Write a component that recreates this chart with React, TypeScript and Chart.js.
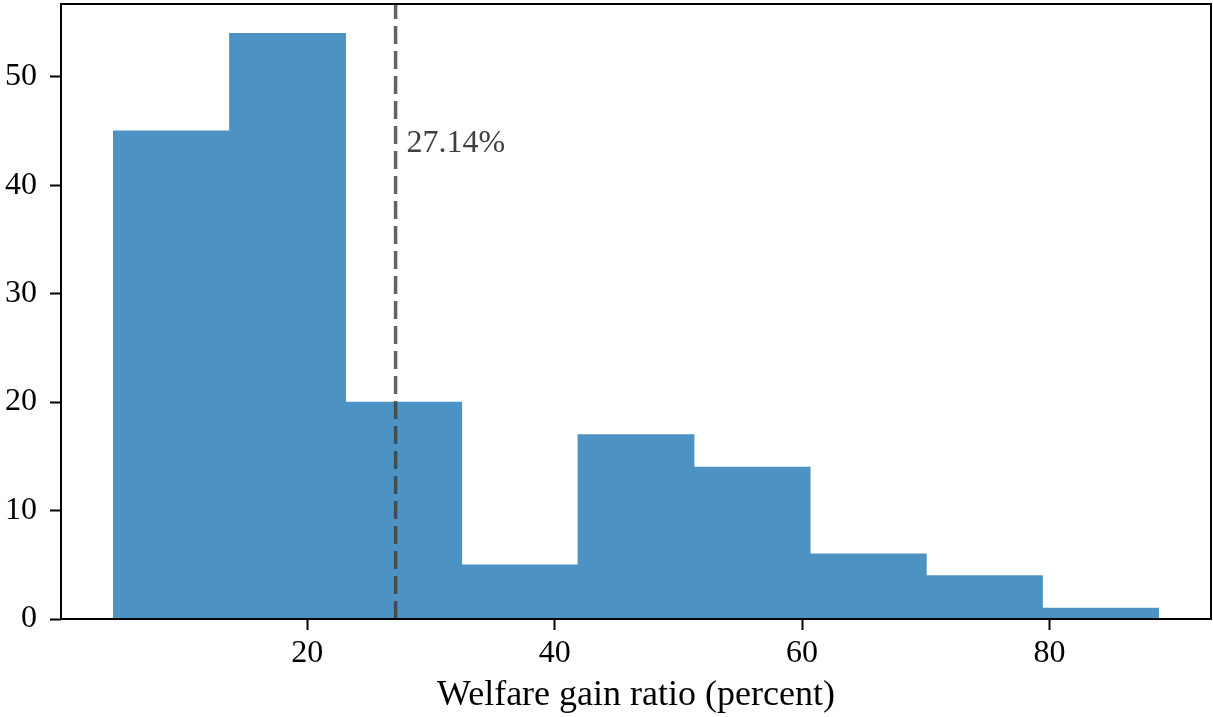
import React, { useEffect, useRef } from "react";
import { Chart, registerables } from "chart.js";

Chart.register(...registerables);

// ---- data ----
const binEdges = [4.32, 13.71, 23.1, 32.49, 41.88, 51.27, 60.66, 70.05, 79.44, 88.83];
const counts = [45, 54, 20, 5, 17, 14, 6, 4, 1];
const meanValue = 27.14;
const meanLabelY = 45;
const xTicks = [20, 40, 60, 80];
const yTicks = [0, 10, 20, 30, 40, 50];
const xAxisLabel = "Welfare gain ratio (percent)";
const xRange = [0.09, 93.06];
const yRange = [0, 56.7];

const FONT = "'Liberation Serif', 'DejaVu Serif', serif";
const FONT_SIZE = 32;
const LABEL_SIZE = 36;

const frameAndLabel = {
  id: "frameAndLabel",
  afterDatasetsDraw(chart: any) {
    const { ctx, chartArea: a, scales } = chart;
    ctx.save();
    ctx.strokeStyle = "#000";
    ctx.lineWidth = 2;
    ctx.strokeRect(a.left, a.top, a.right - a.left, a.bottom - a.top);
    ctx.font = `${FONT_SIZE}px ${FONT}`;
    ctx.fillStyle = "#404040";
    ctx.textAlign = "left";
    ctx.textBaseline = "alphabetic";
    ctx.fillText(
      `${meanValue.toFixed(2)}%`,
      scales.x.getPixelForValue(meanValue) + 11,
      scales.y.getPixelForValue(meanLabelY) + 21
    );
    ctx.restore();
  },
};

export default function App() {
  const ref = useRef<HTMLCanvasElement | null>(null);

  useEffect(() => {
    if (!ref.current) return;
    const centers = counts.map((_, i) => (binEdges[i] + binEdges[i + 1]) / 2);
    const chart = new Chart(ref.current, {
      type: "bar",
      data: {
        datasets: [
          {
            type: "line",
            label: "mean",
            data: [
              { x: meanValue, y: yRange[0] },
              { x: meanValue, y: yRange[1] },
            ],
            borderColor: "rgba(60,60,60,0.8)",
            borderWidth: 3.5,
            borderDash: [18, 7],
            pointRadius: 0,
            order: 0,
          } as any,
          {
            type: "bar",
            label: "count",
            data: centers.map((c, i) => ({ x: c, y: counts[i] })),
            backgroundColor: "rgb(76,146,195)",
            borderWidth: 0,
            barPercentage: 1,
            categoryPercentage: 1,
            order: 1,
          } as any,
        ],
      },
      options: {
        animation: false,
        responsive: false,
        devicePixelRatio: 1,
        layout: { padding: { top: 4, right: 2, left: 0, bottom: 0 } },
        plugins: {
          legend: { display: false },
          tooltip: { enabled: false },
        },
        scales: {
          x: {
            type: "linear",
            min: xRange[0],
            max: xRange[1],
            offset: false,
            border: { display: false },
            grid: {
              offset: false,
              drawOnChartArea: false,
              drawTicks: true,
              tickLength: 11,
              tickWidth: 2,
              tickColor: "#000",
            },
            ticks: {
              color: "#000",
              padding: 4,
              font: { family: FONT, size: FONT_SIZE },
              maxRotation: 0,
            },
            title: {
              display: true,
              text: xAxisLabel,
              color: "#000",
              font: { family: FONT, size: LABEL_SIZE, lineHeight: 1.0 },
              padding: { top: 0, bottom: 3 },
            },
            afterBuildTicks(scale: any) {
              scale.ticks = xTicks.map((v) => ({ value: v }));
            },
            afterFit(scale: any) {
              scale.height = 98;
              scale.paddingLeft = 0;
              scale.paddingRight = 0;
            },
          } as any,
          y: {
            type: "linear",
            min: yRange[0],
            max: yRange[1],
            border: { display: false },
            grid: {
              drawOnChartArea: false,
              drawTicks: true,
              tickLength: 11,
              tickWidth: 2,
              tickColor: "#000",
            },
            ticks: {
              color: "#000",
              padding: 13,
              font: { family: FONT, size: FONT_SIZE },
            },
            afterBuildTicks(scale: any) {
              scale.ticks = yTicks.map((v) => ({ value: v }));
            },
            afterFit(scale: any) {
              scale.width = 61;
              scale.paddingTop = 0;
              scale.paddingBottom = 0;
            },
          } as any,
        },
      },
      plugins: [frameAndLabel],
    });
    return () => chart.destroy();
  }, []);

  return (
    <div style={{ position: "absolute", left: 0, top: 0, width: 1213, height: 717 }}>
      <canvas ref={ref} width={1213} height={717} />
    </div>
  );
}
